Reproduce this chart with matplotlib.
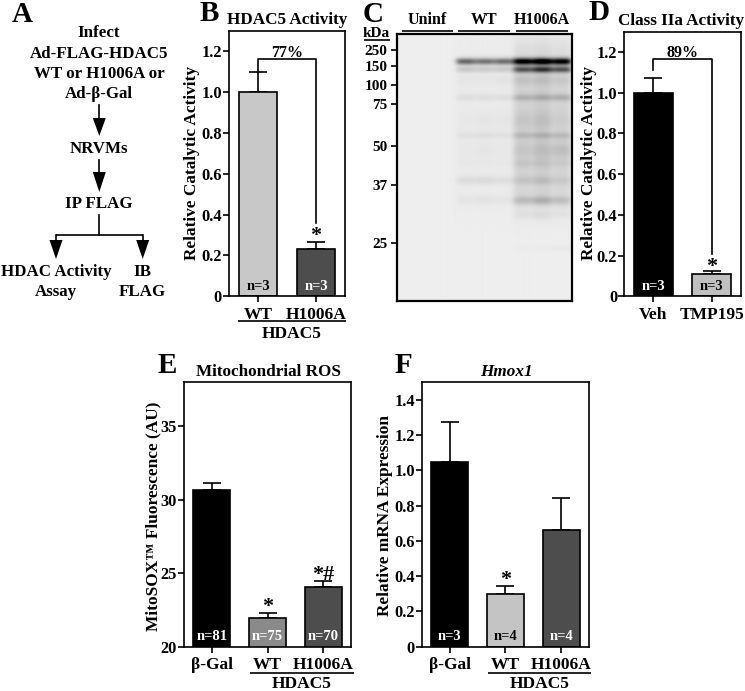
import numpy as np
import matplotlib
matplotlib.use("Agg")
import matplotlib.pyplot as plt

plt.rcParams['font.family'] = ['Liberation Serif', 'DejaVu Sans']
plt.rcParams['font.weight'] = 'bold'

W, H = 745, 691
TICKSIZE = 12.5
YTICKSIZE = 11.8
LABELSIZE = 12.2
LW = 1.2

# panel B
b_labels = ["WT", "H1006A"]
b_values = [1.0, 0.23]
b_errors = [0.10, 0.035]
b_colors = ["#c8c8c8", "#4d4d4d"]
b_n = ["n=3", "n=3"]

# panel D
d_labels = ["Veh", "TMP195"]
d_values = [1.0, 0.11]
d_errors = [0.07, 0.012]
d_colors = ["#000000", "#c0c0c0"]
d_n = ["n=3", "n=3"]

# panel E
e_labels = ["\u03b2-Gal", "WT", "H1006A"]
e_values = [30.65, 21.95, 24.05]
e_errors = [0.5, 0.37, 0.45]
e_colors = ["#000000", "#8a8a8a", "#4d4d4d"]
e_n = ["n=81", "n=75", "n=70"]
e_marks = ["", "*", "*#"]

# panel F
f_labels = ["\u03b2-Gal", "WT", "H1006A"]
f_values = [1.05, 0.30, 0.66]
f_errors = [0.227, 0.047, 0.183]
f_colors = ["#000000", "#c4c4c4", "#4d4d4d"]
f_n = ["n=3", "n=4", "n=4"]
f_marks = ["", "*", ""]

# panel C, the blot: darkness of each band in each lane
mw_labels = ["250", "150", "100", "75", "50", "37", "25"]
mw_rows = [50, 66, 85, 104, 146, 185, 243]
lane_x = [465, 484, 503, 522, 541, 560]
band_rows = [61, 69, 80, 97, 120, 135, 150, 163, 180, 200, 215, 248]
band_sigma = [3.4, 3.2, 5, 3.5, 8, 3.5, 8, 4, 4, 4.5, 4, 3]
lane_bands = [
    [0.55, 0.14, 0.02, 0.05, 0.01, 0.04, 0.01, 0.01, 0.06, 0.03, 0.00, 0.00],
    [0.50, 0.13, 0.02, 0.05, 0.02, 0.05, 0.02, 0.01, 0.07, 0.04, 0.00, 0.00],
    [0.52, 0.13, 0.03, 0.05, 0.02, 0.04, 0.01, 0.01, 0.05, 0.03, 0.00, 0.00],
    [0.98, 0.55, 0.07, 0.14, 0.05, 0.11, 0.05, 0.05, 0.07, 0.14, 0.03, 0.01],
    [1.05, 0.68, 0.07, 0.16, 0.06, 0.13, 0.07, 0.05, 0.09, 0.18, 0.04, 0.01],
    [0.95, 0.55, 0.05, 0.16, 0.03, 0.11, 0.09, 0.04, 0.06, 0.13, 0.02, 0.02],
]
lane_smear = [0.015, 0.015, 0.015, 0.12, 0.14, 0.11]


def add_axes(left, top, right, bottom):
    return fig.add_axes([left / W, 1 - bottom / H, (right - left) / W, (bottom - top) / H])


def bars(ax, values, errors, colors, n, ylim, yticks, yticklabels, labels):
    x = np.arange(len(values))
    ax.bar(x, values, width=0.66, color=colors, edgecolor="black", linewidth=LW, zorder=2)
    ax.errorbar(x, values, yerr=[np.zeros(len(errors)), errors], fmt="none", ecolor="black",
                elinewidth=LW, capsize=6.8, capthick=LW, zorder=1)
    ax.set_xlim(-0.5, len(values) - 0.5)
    ax.set_ylim(ylim)
    ax.set_yticks(yticks)
    ax.set_yticklabels(yticklabels)
    ax.set_xticks(x)
    ax.set_xticklabels(labels)
    ax.tick_params(axis="x", labelsize=TICKSIZE, width=LW, length=4.5, pad=3)
    ax.tick_params(axis="y", labelsize=YTICKSIZE, width=LW, length=4, pad=1)
    for s in ax.spines.values():
        s.set_linewidth(LW)
    for i in x:
        col = "black" if colors[i] in ("#c8c8c8", "#c0c0c0", "#c4c4c4") else "white"
        ax.annotate(n[i], (i, ylim[0]), xytext=(0, 2.5), textcoords="offset points",
                    ha="center", va="bottom", color=col, fontsize=10.5)


def bracket(ax, y, y_left, y_right, text):
    ax.plot([0, 0, 1, 1], [y_left, y, y, y_right], color="black", lw=LW, zorder=1)
    ax.annotate(text, (0.5, y), xytext=(0, -1.5), textcoords="offset points",
                ha="center", va="bottom", fontsize=11.5)


def star(ax, i, y, text="*"):
    ax.annotate(text, (i, y), xytext=(0, -3.5), textcoords="offset points",
                ha="center", va="bottom", fontsize=16)


fig = plt.figure(figsize=(W / 100, H / 100), dpi=100)

# pixel overlay for the text and lines outside the plots
ov = fig.add_axes([0, 0, 1, 1], zorder=5)
ov.set_xlim(0, W)
ov.set_ylim(H, 0)
ov.axis("off")


def txt(x, y, s, size=LABELSIZE, **kw):
    ov.text(x, y, s, fontsize=size, ha="center", va="center", **kw)


def line(x0, x1, y):
    ov.plot([x0, x1], [y, y], color="black", lw=LW, solid_capstyle="butt")


def arrow(x, y0, y1, y2):
    ov.plot([x, x], [y0, y1], color="black", lw=LW)
    ov.fill([x - 6.5, x + 6.5, x], [y1, y1, y2], color="black", lw=0)


# panel letters
for s, x, y in [("A", 22, 14), ("B", 209, 13), ("C", 373, 14), ("D", 598.5, 12), ("E", 167.5, 365), ("F", 403, 365)]:
    txt(x, y, s, size=21)

# panel A
for s, x, y in [("Infect", 99, 33), ("Ad-FLAG-HDAC5", 99, 54), ("WT or H1006A or", 99, 74),
                ("Ad-\u03b2-Gal", 99, 94), ("NRVMs", 99, 149), ("IP FLAG", 99, 204),
                ("HDAC Activity", 56, 272), ("Assay", 56, 292), ("IB", 142, 272), ("FLAG", 142, 292)]:
    txt(x, y, s)
arrow(99.3, 105, 118, 136)
arrow(99.3, 160, 172, 192)
ov.plot([99.3, 99.3], [215, 235], color="black", lw=LW)
line(55.5, 143.3, 235)
arrow(56, 235, 240, 259)
arrow(142.7, 235, 240, 259)

# panel B
ax = add_axes(229, 31, 345, 296.3)
bars(ax, b_values, b_errors, b_colors, b_n, (0, 1.3), [0, .2, .4, .6, .8, 1.0, 1.2],
     ["0", "0.2", "0.4", "0.6", "0.8", "1.0", "1.2"], b_labels)
bracket(ax, 1.163, 1.105, 0.36, "77%")
star(ax, 1, 0.27)
txt(287, 20, "HDAC5 Activity", size=12.3)
txt(192, 163, "Relative Catalytic Activity", rotation=90, size=12.4)
line(238, 346, 321)
txt(292, 334, "HDAC5", size=TICKSIZE)

# panel C
ax = add_axes(396.7, 34, 572.3, 301)
rows = np.arange(34, 301)
cols = np.arange(397, 572)
img = np.full((len(rows), len(cols)), 0.93)
for k, lx in enumerate(lane_x):
    profile = np.exp(-((cols - lx) / 10.0) ** 4)
    dark = lane_smear[k] * np.exp(-((rows - 125) / 85.0) ** 6)
    for j, by in enumerate(band_rows):
        dark = dark + lane_bands[k][j] * np.exp(-((rows - by) / band_sigma[j]) ** 2)
    img = img - np.outer(dark, profile) * 0.93
ax.imshow(np.clip(img, 0, 1), cmap="gray", vmin=0, vmax=1, aspect="auto", extent=(397, 572, 301, 34),
          interpolation="bilinear")
ax.set_xticks([])
ax.set_yticks(mw_rows)
ax.set_yticklabels(mw_labels)
ax.tick_params(axis="y", labelsize=11, width=LW, length=4.5, pad=2)
for s in ax.spines.values():
    s.set_linewidth(1.6)
for s, x, x0, x1 in [("Uninf", 427, 401.7, 453.3), ("WT", 484, 458, 510), ("H1006A", 542, 516, 568)]:
    txt(x, 20, s, size=11.5)
    line(x0, x1, 31)
txt(376, 33, "kDa", size=11, zorder=6)
line(364, 390, 40)

# panel D
ax = add_axes(624.3, 31.5, 740.7, 296.3)
bars(ax, d_values, d_errors, d_colors, d_n, (0, 1.3), [0, .2, .4, .6, .8, 1.0, 1.2],
     ["0", "0.2", "0.4", "0.6", "0.8", "1.0", "1.2"], d_labels)
bracket(ax, 1.163, 1.11, 0.208, "89%")
star(ax, 1, 0.12)
txt(681, 21, "Class IIa Activity", size=12.3)
txt(589, 163, "Relative Catalytic Activity", rotation=90, size=12.4)

# panel E
ax = add_axes(184, 382.3, 351.3, 646.7)
bars(ax, e_values, e_errors, e_colors, e_n, (20, 38), [20, 25, 30, 35],
     ["20", "25", "30", "35"], e_labels)
for i, s in enumerate(e_marks):
    if s:
        star(ax, i, e_values[i] + e_errors[i], s)
txt(268, 372, "Mitochondrial ROS", size=12.3)
txt(153, 516, "MitoSOX\u2122 Fluorescence (AU)", rotation=90, size=12.4)
line(250, 354, 673)
txt(302, 684, "HDAC5", size=TICKSIZE)

# panel F
ax = add_axes(421.7, 382.3, 589.3, 646.7)
bars(ax, f_values, f_errors, f_colors, f_n, (0, 1.5), [0, .2, .4, .6, .8, 1.0, 1.2, 1.4],
     ["0", "0.2", "0.4", "0.6", "0.8", "1.0", "1.2", "1.4"], f_labels)
for i, s in enumerate(f_marks):
    if s:
        star(ax, i, f_values[i] + f_errors[i], s)
txt(506, 372, "Hmox1", style="italic", size=12.3)
txt(385, 515, "Relative mRNA Expression", rotation=90, size=12.4)
line(488, 591, 673)
txt(540, 684, "HDAC5", size=TICKSIZE)

fig.savefig("out.png", dpi=100)
